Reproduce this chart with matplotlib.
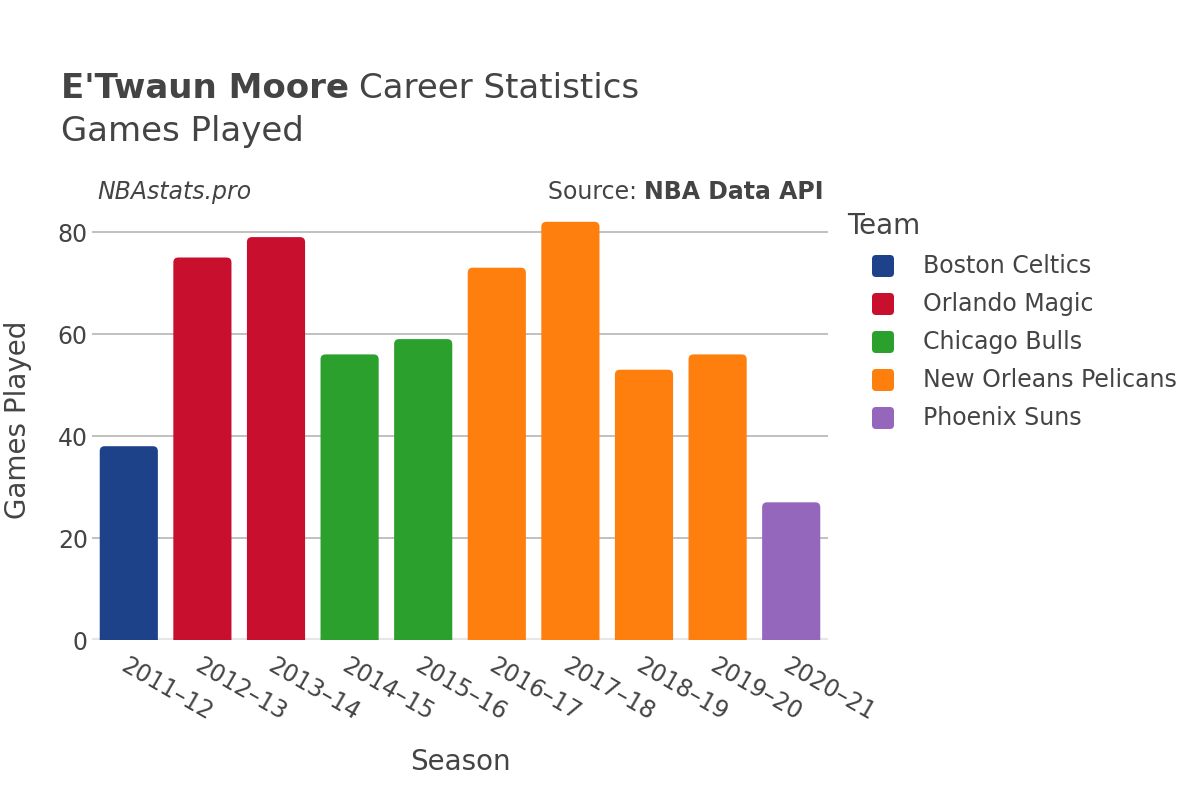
import matplotlib
matplotlib.use("Agg")
import matplotlib.pyplot as plt
from matplotlib.patches import FancyBboxPatch, PathPatch
from matplotlib.path import Path

seasons = ["2011–12", "2012–13", "2013–14", "2014–15", "2015–16",
           "2016–17", "2017–18", "2018–19", "2019–20", "2020–21"]
games = [38, 75, 79, 56, 59, 73, 82, 53, 56, 27]
teams = ["Boston Celtics", "Orlando Magic", "Orlando Magic", "Chicago Bulls", "Chicago Bulls",
         "New Orleans Pelicans", "New Orleans Pelicans", "New Orleans Pelicans",
         "New Orleans Pelicans", "Phoenix Suns"]
team_order = ["Boston Celtics", "Orlando Magic", "Chicago Bulls", "New Orleans Pelicans", "Phoenix Suns"]
team_colors = {"Boston Celtics": "#1d428a", "Orlando Magic": "#c8102e", "Chicago Bulls": "#2ca02c",
               "New Orleans Pelicans": "#ff7f0e", "Phoenix Suns": "#9467bd"}
yticks = [0, 20, 40, 60, 80]

TXT = "#444444"
W, H = 1200, 800
plt.rcParams['font.family'] = ['DejaVu Sans']
fig = plt.figure(figsize=(12, 8), dpi=100)
ax_l, ax_r, ax_b, ax_t = 92, 828, 640, 211.6
ax = fig.add_axes([ax_l/W, 1-ax_b/H, (ax_r-ax_l)/W, (ax_b-ax_t)/H])
YMAX = 84

x = list(range(len(seasons)))
bars = ax.bar(x, games, width=0.79, color=[team_colors[t] for t in teams], zorder=3)
px_per_x = (ax_r-ax_l)/len(seasons)
px_per_y = (ax_b-ax_t)/YMAX
rx = 5/px_per_x
ry = 5/px_per_y
for b in bars:
    b.set_visible(False)
    x0, y0, bw, bh = b.get_x(), b.get_y(), b.get_width(), b.get_height()
    x1, y1 = x0 + bw, y0 + bh
    verts = [(x0, y0), (x1, y0), (x1, y1 - ry), (x1, y1), (x1 - rx, y1),
             (x0 + rx, y1), (x0, y1), (x0, y1 - ry), (x0, y0)]
    codes = [Path.MOVETO, Path.LINETO, Path.LINETO, Path.CURVE3, Path.CURVE3,
             Path.LINETO, Path.CURVE3, Path.CURVE3, Path.CLOSEPOLY]
    ax.add_patch(PathPatch(Path(verts, codes), facecolor=b.get_facecolor(), edgecolor="none", zorder=3))

ax.set_xlim(-0.5, len(seasons) - 0.5)
ax.set_ylim(0, YMAX)
ax.set_yticks(yticks)
ax.set_yticklabels([str(v) for v in yticks], fontsize=17, color=TXT)
ax.yaxis.grid(True, color="#b5b5b5", linewidth=1.2, zorder=0)
ax.axhline(0, color="#e6e6e6", linewidth=3, zorder=2)
ax.set_xticks(x)
ax.set_xticklabels(seasons, rotation=-30, ha="left", rotation_mode="anchor", fontsize=17, color=TXT)
for s in ax.spines.values():
    s.set_visible(False)
ax.tick_params(axis="y", length=0, pad=3)
ax.tick_params(axis="x", length=0, pad=10)

ax.set_xlabel("Season", fontsize=20, color=TXT, labelpad=16)
ax.set_ylabel("Games Played", fontsize=20, color=TXT, va="center", ha="center")
ax.yaxis.set_label_coords((18 - ax_l)/(ax_r - ax_l), (ax_b - 420)/(ax_b - ax_t))

t1 = fig.text(61/W, 1-89/H, "E'Twaun Moore", fontsize=24.5, fontweight="bold", color=TXT, va="center")
fig.canvas.draw()
e = t1.get_window_extent()
fig.text((e.x1 + 10)/W, 1-89/H, "Career Statistics", fontsize=24.5, color=TXT, va="center")
fig.text(61/W, 1-132/H, "Games Played", fontsize=24.5, color=TXT, va="center")
fig.text(97/W, 1-192/H, "NBAstats.pro", fontsize=17, style="italic", color=TXT, va="center")
t = fig.text(824/W, 1-192/H, "NBA Data API", fontsize=17, fontweight="bold", color=TXT, va="center", ha="right")
fig.canvas.draw()
bb = t.get_window_extent()
fig.text(bb.x0/W, 1-192/H, "Source: ", fontsize=17, color=TXT, va="center", ha="right")

# legend
fig.text(847/W, 1-226/H, "Team", fontsize=20, color=TXT, va="center", ha="left")
for i, tm in enumerate(team_order):
    cy = 266 + 38*i
    fig.patches.append(FancyBboxPatch((872, H - cy - 11), 22, 22,
                                      boxstyle="round,pad=0,rounding_size=4",
                                      transform=None, facecolor=team_colors[tm], edgecolor="none",
                                      figure=fig))
    fig.text(923/W, 1-cy/H, tm, fontsize=17, color=TXT, va="center", ha="left")

fig.savefig("out.png", dpi=100, facecolor="white")
